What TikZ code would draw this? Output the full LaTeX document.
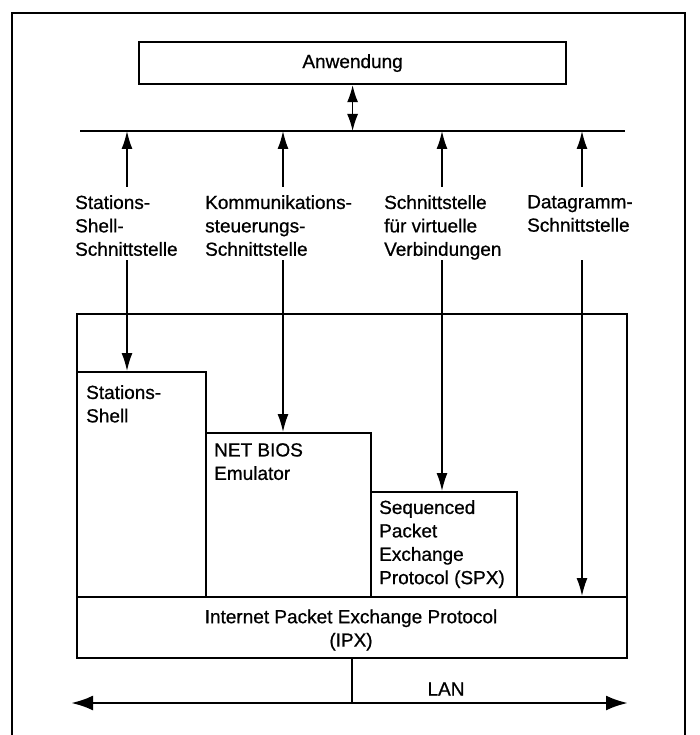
\documentclass[tikz,border=0pt]{standalone}
\usepackage{fontspec}
\setmainfont{Liberation Sans}[FakeBold=0.7]
\usetikzlibrary{arrows.meta}

\begin{document}
\begin{tikzpicture}[x=1pt, y=-1pt,
  txt/.style={font=\fontsize{19}{23.4}\selectfont},
  box/.style={draw, line width=2.2pt, rectangle, inner sep=0pt, anchor=north west},
  lbl/.style={txt, anchor=north west, inner sep=0pt, align=left},
  conn/.style={line width=1.4pt},
  tip/.style={-{Latex[length=18pt,width=11pt]}},
  bothtips/.style={{Latex[length=17pt,width=11pt]}-{Latex[length=17pt,width=11pt]}},
  lantips/.style={{Latex[length=22pt,width=15pt]}-{Latex[length=22pt,width=15pt]}},
]
\useasboundingbox (0,0) rectangle (700,735);
\fill[white] (0,0) rectangle (700,735);

% outer frame, open at the bottom
\draw[line width=2.6pt] (12,735) -- (12,13) -- (685,13) -- (685,735);

% application box
\node[box, txt, minimum width=427pt, minimum height=42pt] (app) at (138,41) {};
\node[txt] (apptext) at (app.center) {Anwendung};

% interface bus
\coordinate (busL) at (80,131);
\coordinate (busR) at (625,131);
\draw[line width=2.2pt] (busL) -- (busR);
\draw[conn, bothtips] (app.south) -- (app.south |- busL);

% interface labels
\node[lbl] (lab1) at (75,195) {Stations-\\Shell-\\Schnittstelle};
\node[lbl] (lab2) at (205,195) {Kommunikations-\\steuerungs-\\Schnittstelle};
\node[lbl] (lab3) at (384,195) {Schnittstelle\\für virtuelle\\Verbindungen};
\node[lbl] (lab4) at (527,195) {Datagramm-\\Schnittstelle};

% arrow start points above and below the labels
\coordinate (u1) at (127,187);  \coordinate (d1) at (127,260);
\coordinate (u2) at (283,187);  \coordinate (d2) at (283,260);
\coordinate (u3) at (442,187);  \coordinate (d3) at (442,260);
\coordinate (u4) at (582,187);  \coordinate (d4) at (582,260);

% protocol stack
\node[box, minimum width=550pt, minimum height=344pt] (stack) at (76,313) {};
\node[box, minimum width=550pt, minimum height=61pt] (ipx) at (76,596) {};
\node[txt, align=center] (ipxtext) at (351,630) {Internet Packet Exchange Protocol\\(IPX)};

\node[box, minimum width=129pt, minimum height=225pt] (shell) at (76,371) {};
\node[box, minimum width=165pt, minimum height=164pt] (netbios) at (205,432) {};
\node[box, minimum width=146pt, minimum height=105pt] (spx) at (370,491) {};

\node[lbl] (shelltext) at (86,385) {Stations-\\Shell};
\node[lbl] (netbiostext) at (214,443) {NET BIOS\\Emulator};
\node[lbl] (spxtext) at (379,500) {Sequenced\\Packet\\Exchange\\Protocol (SPX)};

% arrows up to the bus
\foreach \u in {u1,u2,u3,u4}
  \draw[conn, tip] (\u) -- (\u |- busL);

% arrows down to the modules
\draw[conn, tip] (d1) -- (d1 |- shell.north);
\draw[conn, tip] (d2) -- (d2 |- netbios.north);
\draw[conn, tip] (d3) -- (d3 |- spx.north);
\draw[conn, tip] (d4) -- (d4 |- ipx.north);

% LAN
\coordinate (lanL) at (71,703);
\coordinate (lanR) at (628,703);
\draw[line width=2.8pt, lantips] (lanL) -- (lanR);
\draw[conn] (ipx.south) -- (ipx.south |- lanL);
\node[txt] (lan) at (446,689) {LAN};
\end{tikzpicture}
\end{document}
